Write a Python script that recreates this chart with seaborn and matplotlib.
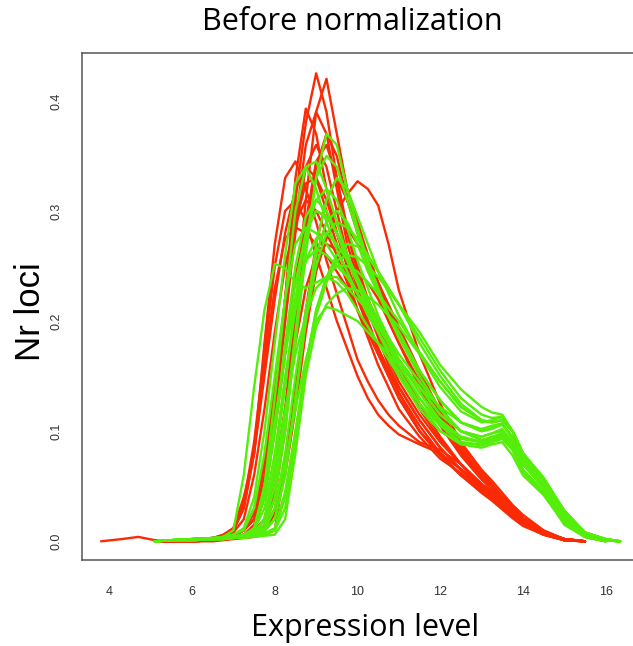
import matplotlib
matplotlib.use("Agg")
import matplotlib.pyplot as plt
import pandas as pd
import seaborn as sns

N = None

# shared expression grid (x) for every density curve
expression = [3.8, 4.3, 4.7, 5.1, 5.5, 6.0, 6.5, 6.75, 7.0, 7.25, 7.5, 7.75,
              8.0, 8.25, 8.5, 8.75, 9.0, 9.25, 9.5, 9.75, 10.0, 10.25, 10.5, 10.75,
              11.0, 11.5, 12.0, 12.5, 13.0, 13.25, 13.5, 13.75, 14.0, 14.5, 15.0,
              15.5, 16.0, 16.35]

# red samples (density, None = no curve there)
red_samples = [
    [N, N, N, 0, 0, .001, .002, .003, .005, .01, .02, .06, .13, .22, .31, .38, .425, .39, .33, .28,
     .245, .215, .19, .165, .145, .115, .09, .07, .05, .042, .032, .024, .017, .007, .001, 0, N, N],
    [N, N, N, 0, 0, 0, .001, .002, .003, .005, .01, .02, .06, .12, .21, .31, .39, .42, .37, .32,
     .29, .26, .235, .21, .19, .15, .115, .085, .06, .05, .039, .028, .02, .008, .002, 0, N, N],
    [N, N, N, 0, 0, .001, .002, .003, .005, .01, .03, .07, .13, .22, .33, .393, .37, .32, .28, .25,
     .225, .2, .175, .155, .135, .105, .08, .06, .045, .038, .03, .022, .015, .006, .001, 0, N, N],
    [N, N, N, 0, 0, .001, .002, .003, .005, .01, .02, .05, .11, .2, .29, .36, .39, .37, .32, .27,
     .24, .21, .185, .16, .14, .11, .085, .065, .048, .04, .032, .024, .016, .007, .001, 0, N, N],
    [N, N, N, 0, 0, .002, .003, .005, .012, .04, .08, .18, .27, .33, .345, .32, .29, .255, .225, .195,
     .165, .145, .128, .115, .105, .09, .083, .07, .052, .045, .036, .027, .019, .008, .002, 0, N, N],
    [N, N, N, 0, 0, 0, .001, .002, .003, .004, .006, .01, .03, .07, .13, .2, .26, .29, .3, .315,
     .327, .32, .305, .27, .228, .17, .125, .09, .065, .055, .044, .033, .024, .01, .002, 0, N, N],
    [N, N, N, 0, 0, 0, .001, .002, .003, .005, .007, .012, .04, .1, .19, .28, .34, .37, .35, .31,
     .28, .25, .225, .2, .18, .14, .105, .078, .056, .047, .037, .027, .019, .008, .001, 0, N, N],
    [N, N, N, 0, 0, .001, .003, .005, .01, .03, .08, .15, .22, .28, .32, .34, .33, .3, .27, .24,
     .21, .185, .16, .14, .12, .095, .075, .062, .048, .04, .031, .023, .016, .007, .001, 0, N, N],
    [N, N, N, 0, 0, 0, .001, .002, .003, .005, .01, .04, .1, .17, .24, .285, .3, .295, .28, .26,
     .24, .22, .2, .18, .16, .125, .095, .07, .052, .045, .036, .027, .019, .008, .002, 0, N, N],
    [N, N, N, 0, 0, 0, 0, .001, .002, .003, .004, .006, .01, .07, .14, .21, .27, .31, .33, .31,
     .285, .26, .235, .21, .19, .15, .112, .082, .06, .051, .04, .03, .021, .009, .002, 0, N, N],
    [N, N, N, 0, 0, .001, .002, .003, .004, .006, .015, .05, .12, .2, .28, .34, .36, .34, .3, .26,
     .23, .2, .175, .155, .135, .1, .078, .06, .046, .039, .031, .023, .015, .006, .001, 0, N, N],
    [N, N, N, 0, 0, .001, .003, .005, .01, .03, .08, .16, .23, .275, .285, .28, .27, .26, .245, .23,
     .21, .19, .17, .15, .13, .1, .08, .065, .05, .043, .034, .026, .018, .008, .002, 0, N, N],
    [0, .002, .004, .001, 0, .002, .003, .004, .008, .02, .06, .12, .19, .25, .29, .31, .3, .28, .26, .235,
     .21, .19, .17, .15, .13, .1, .078, .06, .044, .037, .029, .021, .014, .006, .001, 0, N, N],
    [N, N, N, 0, 0, .001, .002, .003, .005, .01, .025, .07, .14, .22, .29, .325, .33, .31, .28, .25,
     .22, .195, .175, .155, .14, .11, .085, .065, .05, .043, .035, .027, .019, .008, .002, 0, N, N],
    [N, N, N, 0, 0, 0, .001, .002, .003, .004, .006, .01, .025, .06, .12, .19, .245, .275, .29, .285,
     .27, .255, .235, .215, .195, .155, .118, .088, .063, .052, .041, .031, .021, .009, .002, 0, N, N],
    [N, N, N, 0, 0, .001, .003, .006, .012, .035, .09, .17, .25, .3, .31, .29, .26, .23, .2, .175,
     .15, .13, .115, .105, .097, .088, .08, .066, .05, .043, .034, .026, .018, .008, .002, 0, N, N],
    [N, N, N, 0, 0, 0, .001, .002, .003, .005, .008, .015, .045, .11, .2, .29, .345, .36, .33, .285,
     .25, .22, .195, .175, .155, .12, .092, .07, .052, .045, .035, .027, .019, .008, .002, 0, N, N],
    [N, N, N, 0, 0, 0, .001, .002, .003, .005, .008, .02, .06, .12, .18, .23, .26, .27, .265, .255,
     .245, .235, .22, .2, .18, .145, .11, .08, .058, .05, .04, .03, .021, .009, .002, 0, N, N],
]

# green samples
green_samples = [
    [N, N, N, 0, .001, .002, .002, .003, .004, .005, .007, .012, .04, .1, .18, .26, .33, .37, .36, .32,
     .285, .255, .23, .205, .185, .15, .12, .1, .092, .095, .098, .085, .065, .045, .015, .004, 0, N],
    [N, N, N, 0, .001, .002, .003, .004, .006, .012, .04, .1, .18, .26, .325, .34, .32, .29, .265, .245,
     .225, .205, .19, .175, .16, .13, .108, .093, .09, .093, .097, .085, .065, .045, .017, .004, 0, N],
    [N, N, N, 0, .001, .002, .003, .004, .01, .06, .14, .21, .252, .248, .235, .23, .235, .24, .235, .225,
     .21, .195, .18, .165, .15, .125, .105, .095, .09, .092, .095, .085, .065, .045, .02, .006, .001, 0],
    [N, N, N, 0, .001, .001, .002, .003, .004, .005, .007, .01, .03, .07, .12, .165, .2, .213, .21, .205,
     .2, .19, .18, .17, .16, .14, .122, .108, .102, .105, .107, .095, .075, .052, .024, .007, .001, 0],
    [N, N, N, 0, .001, .001, .002, .003, .004, .005, .007, .01, .02, .06, .13, .2, .27, .31, .33, .32,
     .295, .27, .245, .225, .205, .17, .14, .118, .108, .11, .113, .1, .078, .052, .024, .007, .001, 0],
    [N, N, N, 0, .001, .002, .002, .003, .004, .006, .01, .04, .1, .17, .235, .28, .3, .295, .28, .26,
     .24, .22, .2, .18, .16, .13, .105, .09, .087, .09, .093, .083, .063, .043, .017, .004, 0, N],
    [N, N, N, 0, .001, .001, .002, .002, .003, .004, .005, .007, .01, .03, .09, .16, .21, .24, .26, .27,
     .268, .258, .245, .23, .215, .18, .15, .125, .11, .108, .11, .1, .08, .055, .028, .008, .001, 0],
    [N, N, N, 0, .001, .002, .003, .004, .006, .01, .03, .08, .15, .22, .27, .285, .28, .27, .255, .24,
     .225, .21, .19, .17, .155, .125, .1, .088, .085, .088, .09, .078, .06, .042, .016, .004, 0, N],
    [N, N, N, 0, .001, .002, .002, .003, .004, .006, .008, .015, .05, .11, .19, .27, .33, .35, .34, .31,
     .28, .25, .225, .205, .185, .155, .128, .108, .1, .103, .107, .093, .07, .05, .02, .005, .001, 0],
    [N, N, N, 0, .001, .001, .002, .002, .003, .004, .005, .006, .01, .04, .1, .16, .21, .24, .25, .25,
     .245, .235, .225, .212, .2, .172, .145, .122, .11, .108, .11, .1, .08, .056, .027, .008, .002, 0],
    [N, N, N, 0, .001, .002, .002, .003, .004, .006, .01, .05, .11, .17, .22, .255, .265, .26, .25, .24,
     .225, .21, .195, .18, .165, .14, .115, .1, .095, .098, .1, .09, .07, .05, .022, .006, .001, 0],
    [N, N, N, 0, .001, .002, .002, .003, .004, .006, .01, .04, .1, .18, .25, .295, .31, .3, .28, .255,
     .235, .21, .19, .17, .15, .12, .1, .09, .088, .092, .095, .083, .063, .043, .017, .004, 0, N],
    [N, N, N, 0, .001, .001, .002, .003, .004, .005, .007, .02, .06, .12, .17, .205, .23, .24, .24, .23,
     .22, .21, .2, .185, .17, .145, .12, .1, .092, .092, .095, .087, .07, .052, .026, .008, .002, 0],
    [N, N, N, 0, .001, .001, .002, .002, .003, .004, .005, .007, .012, .045, .1, .16, .205, .235, .255, .26,
     .258, .25, .24, .228, .215, .19, .16, .138, .122, .117, .115, .1, .08, .058, .028, .008, .002, 0],
    [N, N, N, 0, .001, .002, .002, .003, .004, .006, .008, .02, .07, .14, .22, .28, .31, .32, .31, .285,
     .255, .23, .205, .185, .165, .135, .11, .095, .09, .093, .097, .088, .07, .048, .02, .005, .001, 0],
    [N, N, N, 0, .001, .002, .002, .003, .004, .006, .012, .05, .13, .22, .3, .34, .345, .32, .29, .26,
     .235, .215, .195, .18, .165, .135, .11, .095, .09, .094, .098, .085, .064, .045, .018, .005, .001, 0],
    [N, N, N, 0, .001, .001, .002, .002, .003, .004, .006, .009, .02, .06, .13, .2, .25, .28, .29, .285,
     .275, .26, .245, .23, .215, .185, .155, .13, .115, .112, .113, .1, .08, .057, .027, .008, .002, 0],
    [N, N, N, 0, .001, .002, .002, .003, .004, .006, .01, .03, .08, .15, .21, .255, .275, .28, .27, .255,
     .235, .215, .195, .18, .165, .14, .115, .1, .095, .098, .102, .09, .07, .05, .022, .006, .001, 0],
    [N, N, N, 0, .001, .001, .002, .002, .003, .003, .004, .005, .006, .02, .08, .15, .195, .215, .225, .23,
     .228, .222, .215, .205, .195, .17, .145, .122, .11, .108, .11, .1, .08, .056, .027, .008, .002, 0],
    [N, N, N, 0, .001, .001, .002, .003, .004, .005, .007, .01, .03, .08, .15, .21, .26, .29, .3, .29,
     .27, .245, .225, .205, .19, .155, .128, .108, .1, .102, .106, .094, .072, .05, .022, .006, .001, 0],
]

x_ticks = [4, 6, 8, 10, 12, 14, 16]
y_ticks = [0.0, 0.1, 0.2, 0.3, 0.4]
y_tick_labels = ["0.0", "0.1", "0.2", "0.3", "0.4"]

# long-form table, one row per (sample, grid point)
rows = []
for group, samples in (("red", red_samples), ("green", green_samples)):
    for i, dens in enumerate(samples):
        for x, y in zip(expression, dens):
            if y is not None:
                rows.append((group, f"{group}_{i}", x, y))
df = pd.DataFrame(rows, columns=["group", "sample", "expression", "density"])

sns.set_style("white")
plt.rcParams["font.family"] = ["Liberation Sans", "DejaVu Sans"]

fig = plt.figure(figsize=(6.33, 6.46), dpi=100)
ax = fig.add_axes([0.129, 0.1331, 0.8833, 0.7844])

# reds first, greens drawn on top
sns.lineplot(data=df, x="expression", y="density", hue="group", units="sample",
             estimator=None, sort=False, hue_order=["red", "green"],
             palette={"red": "#fa2a05", "green": "#55ee0a"},
             linewidth=1.7, legend=False, ax=ax)

ax.set_xlim(3.33, 16.85)
ax.set_ylim(-0.017, 0.4432)
ax.set_xticks(x_ticks)
ax.set_xticklabels([str(t) for t in x_ticks])
ax.set_yticks(y_ticks)
ax.set_yticklabels(y_tick_labels, rotation=90, va="center")
ax.set_xlabel("")
ax.set_ylabel("")

for s in ax.spines.values():
    s.set_visible(True)
    s.set_color("#555555")
    s.set_linewidth(1.1)
ax.tick_params(axis="both", direction="out", length=6, width=0.9, color="#555555",
               labelsize=9, labelcolor="#333333")
ax.tick_params(axis="x", pad=13)
ax.tick_params(axis="y", pad=8)

fig.text(0.557, 1 - 22 / 646, "Before normalization", ha="center", va="center",
         fontsize=22, family="Open Sans", color="black")
fig.text(0.577, 1 - 628 / 646, "Expression level", ha="center", va="center",
         fontsize=22, family="Open Sans", color="black")
fig.text(0.048, 1 - 312 / 646, "Nr loci", ha="center", va="center", rotation=90,
         fontsize=25, family="Liberation Sans", color="black")

fig.savefig("out.png", dpi=100, facecolor="white")
